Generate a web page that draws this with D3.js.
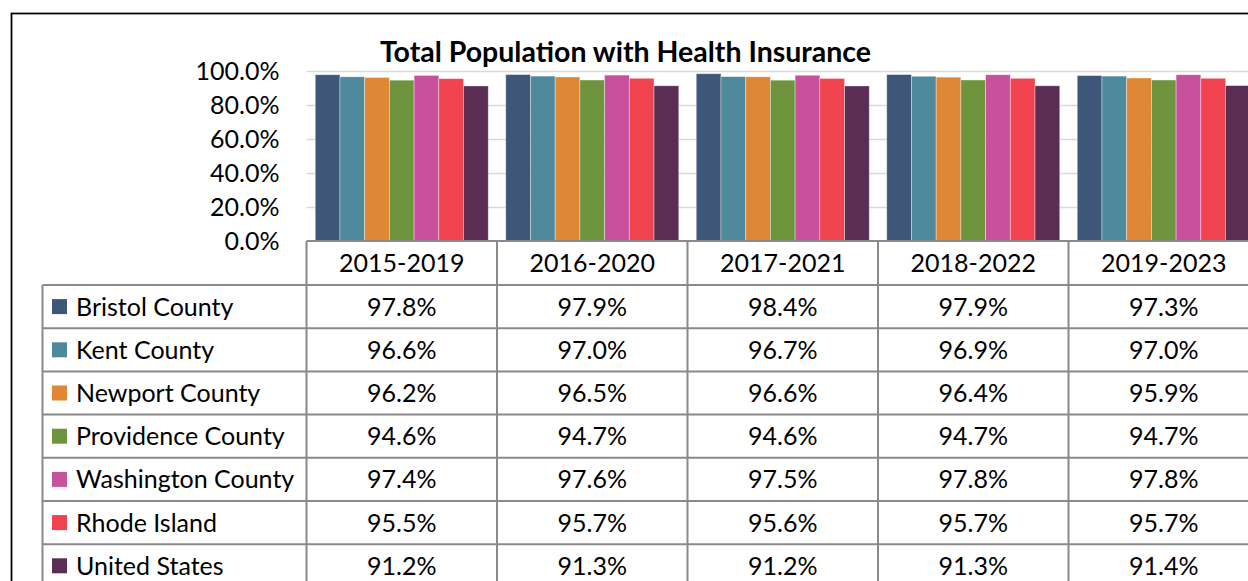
<!DOCTYPE html>
<html>
<head>
<meta charset="utf-8">
<script src="https://cdn.jsdelivr.net/npm/d3@7"></script>
<style>
  html, body { margin: 0; padding: 0; background: #fff; }
  svg { display: block; }
  text { font-family: Lato, "Open Sans", sans-serif; fill: #000; }
</style>
</head>
<body>
<svg id="chart" width="1248" height="581"></svg>
<script>
// Rolling five-year periods
const periods = ["2015-2019", "2016-2020", "2017-2021", "2018-2022", "2019-2023"];

// Geographies shown in the chart and the data table
const areas = ["Bristol County", "Kent County", "Newport County", "Providence County",
               "Washington County", "Rhode Island", "United States"];

// Share of population with health insurance (%), one array per geography
const bristol    = [97.8, 97.9, 98.4, 97.9, 97.3];
const kent       = [96.6, 97.0, 96.7, 96.9, 97.0];
const newport    = [96.2, 96.5, 96.6, 96.4, 95.9];
const providence = [94.6, 94.7, 94.6, 94.7, 94.7];
const washington = [97.4, 97.6, 97.5, 97.8, 97.8];
const rhodeIsland= [95.5, 95.7, 95.6, 95.7, 95.7];
const unitedStates=[91.2, 91.3, 91.2, 91.3, 91.4];

const yTicks = [0, 20, 40, 60, 80, 100];

const colors = ["#3E5779", "#4E8A9C", "#E08735", "#6E953D", "#C7519D", "#F0424F", "#5A2D55"];

const seriesValues = [bristol, kent, newport, providence, washington, rhodeIsland, unitedStates];
const series = areas.map((name, i) => ({ name, color: colors[i], values: seriesValues[i] }));

const svg = d3.select("#chart");

// Layout
const plotLeft = 306.5, catWidth = 190.5;
const plotTop = 71, plotBottom = 241;
const tableLeft = 42.5;
const headerH = 44, rowH = 43.2;
const gridColor = "#d9d9d9", tableColor = "#8a8a8a";
const fontSize = "25px";

const x0 = d3.scaleBand().domain(periods)
  .range([plotLeft, plotLeft + catWidth * periods.length]).padding(0);
const x1 = d3.scaleBand().domain(areas)
  .range([8.75, catWidth - 8.75]).padding(0);
const y = d3.scaleLinear().domain([0, 100]).range([plotBottom, plotTop]);

// Outer frame
svg.append("rect")
  .attr("x", 11.5).attr("y", 13.5).attr("width", 1300).attr("height", 700)
  .attr("fill", "none").attr("stroke", "#000").attr("stroke-width", 1.75);

// Title
svg.append("text")
  .attr("x", 625.5).attr("y", 62)
  .attr("text-anchor", "middle")
  .style("font-weight", "bold").style("font-size", "28.5px")
  .text("Total Population with Health Insurance");

// Gridlines
svg.append("g")
  .attr("transform", `translate(${plotLeft},0)`)
  .call(d3.axisLeft(y).tickValues(yTicks.filter(d => d > 0)).tickSize(-(1248 - plotLeft)).tickFormat(""))
  .call(g => g.select(".domain").remove())
  .call(g => g.selectAll("line").attr("stroke", gridColor).attr("stroke-width", 1.5));

// Y axis labels
svg.append("g")
  .attr("transform", `translate(${plotLeft},0)`)
  .call(d3.axisLeft(y).tickValues(yTicks).tickSize(0).tickPadding(27)
        .tickFormat(d => d.toFixed(1) + "%"))
  .call(g => g.select(".domain").remove())
  .call(g => g.selectAll("text").style("font-size", fontSize).style("font-family", "Lato, sans-serif").attr("fill", "#000"));

// Bars
const groups = svg.append("g").selectAll("g")
  .data(periods).join("g")
  .attr("transform", p => `translate(${x0(p)},0)`);

groups.selectAll("rect")
  .data((p, pi) => series.map(s => ({ name: s.name, color: s.color, v: s.values[pi] })))
  .join("rect")
  .attr("x", d => x1(d.name))
  .attr("width", x1.bandwidth())
  .attr("y", d => y(d.v))
  .attr("height", d => y(0) - y(d.v))
  .attr("fill", d => d.color)
  .attr("stroke", "rgba(255,255,255,0.45)")
  .attr("stroke-width", 0.8);

// Data table
const table = svg.append("g");
const tableRight = 1260;

// Header row: period labels
table.selectAll("text.head")
  .data(periods).join("text")
  .attr("class", "head")
  .attr("x", p => x0(p) + catWidth / 2)
  .attr("y", plotBottom + headerH / 2)
  .attr("dy", "0.36em")
  .attr("text-anchor", "middle")
  .style("font-size", fontSize)
  .text(p => p);

// Body rows
const rowTop = i => plotBottom + headerH + i * rowH;

const rows = table.selectAll("g.row")
  .data(series).join("g")
  .attr("class", "row");

rows.append("rect")
  .attr("x", 52).attr("width", 15)
  .attr("y", (d, i) => rowTop(i) + rowH / 2 - 7.5).attr("height", 15)
  .attr("fill", d => d.color);

rows.append("text")
  .attr("x", 76)
  .attr("y", (d, i) => rowTop(i) + rowH / 2)
  .attr("dy", "0.36em")
  .style("font-size", fontSize)
  .text(d => d.name);

rows.each(function (s, i) {
  d3.select(this).selectAll("text.val")
    .data(s.values).join("text")
    .attr("class", "val")
    .attr("x", (v, j) => x0(periods[j]) + catWidth / 2)
    .attr("y", rowTop(i) + rowH / 2)
    .attr("dy", "0.36em")
    .attr("text-anchor", "middle")
    .style("font-size", fontSize)
    .text(v => v.toFixed(1) + "%");
});

// Table grid lines
const hLines = [];
hLines.push([plotLeft, plotBottom, tableRight, plotBottom]);
for (let i = 0; i <= series.length; i++) hLines.push([tableLeft, rowTop(i), tableRight, rowTop(i)]);
const vLines = [];
vLines.push([tableLeft, rowTop(0), tableLeft, 600]);
periods.forEach(p => vLines.push([x0(p), plotBottom, x0(p), 600]));
vLines.push([x0(periods[4]) + catWidth, plotBottom, x0(periods[4]) + catWidth, 600]);

table.selectAll("line.grid")
  .data(hLines.concat(vLines)).join("line")
  .attr("class", "grid")
  .attr("x1", d => d[0]).attr("y1", d => d[1])
  .attr("x2", d => d[2]).attr("y2", d => d[3])
  .attr("stroke", tableColor).attr("stroke-width", 2);
</script>
</body>
</html>
